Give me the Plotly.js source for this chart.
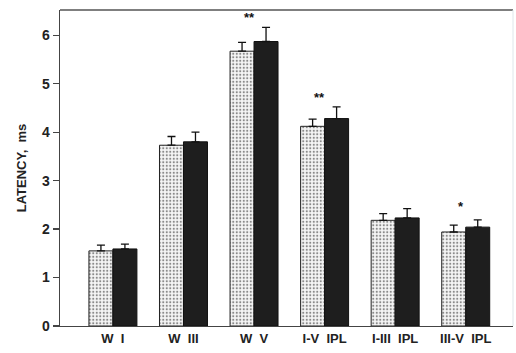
<!DOCTYPE html>
<html>
<head>
<meta charset="utf-8">
<script src="https://cdn.plot.ly/plotly-3.0.1.min.js"></script>
<style>
  html, body { margin: 0; padding: 0; background: #fff; }
  #chart { width: 516px; height: 353px; }
</style>
</head>
<body>
<div id="chart"></div>
<script>
// Brainstem auditory evoked response latencies, two groups per wave / interpeak interval
const categories = ['W\u00a0\u00a0I', 'W\u00a0\u00a0III', 'W\u00a0\u00a0V', 'I-V\u00a0\u00a0IPL', 'I-III\u00a0\u00a0IPL', 'III-V\u00a0\u00a0IPL'];
const groupA = [1.55, 3.73, 5.67, 4.12, 2.18, 1.94];
const groupAErr = [0.12, 0.18, 0.18, 0.15, 0.14, 0.14];
const groupB = [1.59, 3.80, 5.87, 4.28, 2.23, 2.04];
const groupBErr = [0.10, 0.20, 0.29, 0.24, 0.19, 0.15];
const yTicks = [0, 1, 2, 3, 4, 5, 6];

// significance marks placed above the pairs
const sigCategoryIndex = [2, 3, 5];
const sigLabels = ['**', '**', '*'];
const sigHeights = [6.36, 4.72, 2.47];

const zeros = categories.map(() => 0);
const FONT = 'Liberation Sans, Arial, sans-serif';

const traces = [
  {
    type: 'bar', x: categories, y: groupA, name: 'A',
    marker: {
      color: '#f4f4f4',
      line: { color: '#222', width: 1 },
      pattern: { shape: '.', fgcolor: '#8a8a8a', bgcolor: '#f6f6f6', size: 3.5, solidity: 0.3 }
    },
    error_y: { type: 'data', symmetric: false, array: groupAErr, arrayminus: zeros,
               color: '#111', thickness: 1.3, width: 4 }
  },
  {
    type: 'bar', x: categories, y: groupB, name: 'B',
    marker: { color: '#1e1e1e', line: { color: '#111', width: 1 } },
    error_y: { type: 'data', symmetric: false, array: groupBErr, arrayminus: zeros,
               color: '#111', thickness: 1.3, width: 4 }
  }
];

const annotations = sigCategoryIndex.map((ci, i) => ({
  x: ci, y: sigHeights[i], xref: 'x', yref: 'y',
  text: '<b>' + sigLabels[i] + '</b>', showarrow: false, xshift: -5,
  font: { family: FONT, size: 13, color: '#111' }
}));

const layout = {
  width: 516, height: 353,
  margin: { l: 60, r: 3, t: 10, b: 27 },
  paper_bgcolor: '#fff', plot_bgcolor: '#fff',
  showlegend: false,
  barmode: 'group', bargap: 0.32, bargroupgap: 0,
  font: { family: FONT, color: '#222' },
  xaxis: {
    type: 'category', range: [-0.75, 5.67],
    showline: true, linecolor: '#444', linewidth: 1.3,
    ticks: '', showgrid: false, zeroline: false,
    tickfont: { size: 13, color: '#222', family: FONT, weight: 'bold' }
  },
  yaxis: {
    range: [0, 6.52], tickvals: yTicks,
    showline: true, linecolor: '#444', linewidth: 1.3,
    ticks: 'outside', ticklen: 6, tickcolor: '#444', tickwidth: 1.2,
    showgrid: false, zeroline: false,
    tickfont: { size: 14, color: '#222', family: FONT, weight: 'bold' },
    title: { text: 'LATENCY,\u00a0\u00a0ms', standoff: 12,
             font: { size: 13, color: '#222', family: FONT, weight: 'bold' } }
  },
  shapes: [
    { type: 'line', xref: 'paper', yref: 'paper', x0: 0, x1: 1, y0: 1, y1: 1,
      line: { color: '#555', width: 1.5 } },
    { type: 'line', xref: 'paper', yref: 'paper', x0: 1, x1: 1, y0: 0, y1: 1,
      line: { color: '#dfe6ea', width: 1 } }
  ],
  annotations: annotations
};

Plotly.newPlot('chart', traces, layout, { displayModeBar: false, staticPlot: true });
</script>
</body>
</html>
